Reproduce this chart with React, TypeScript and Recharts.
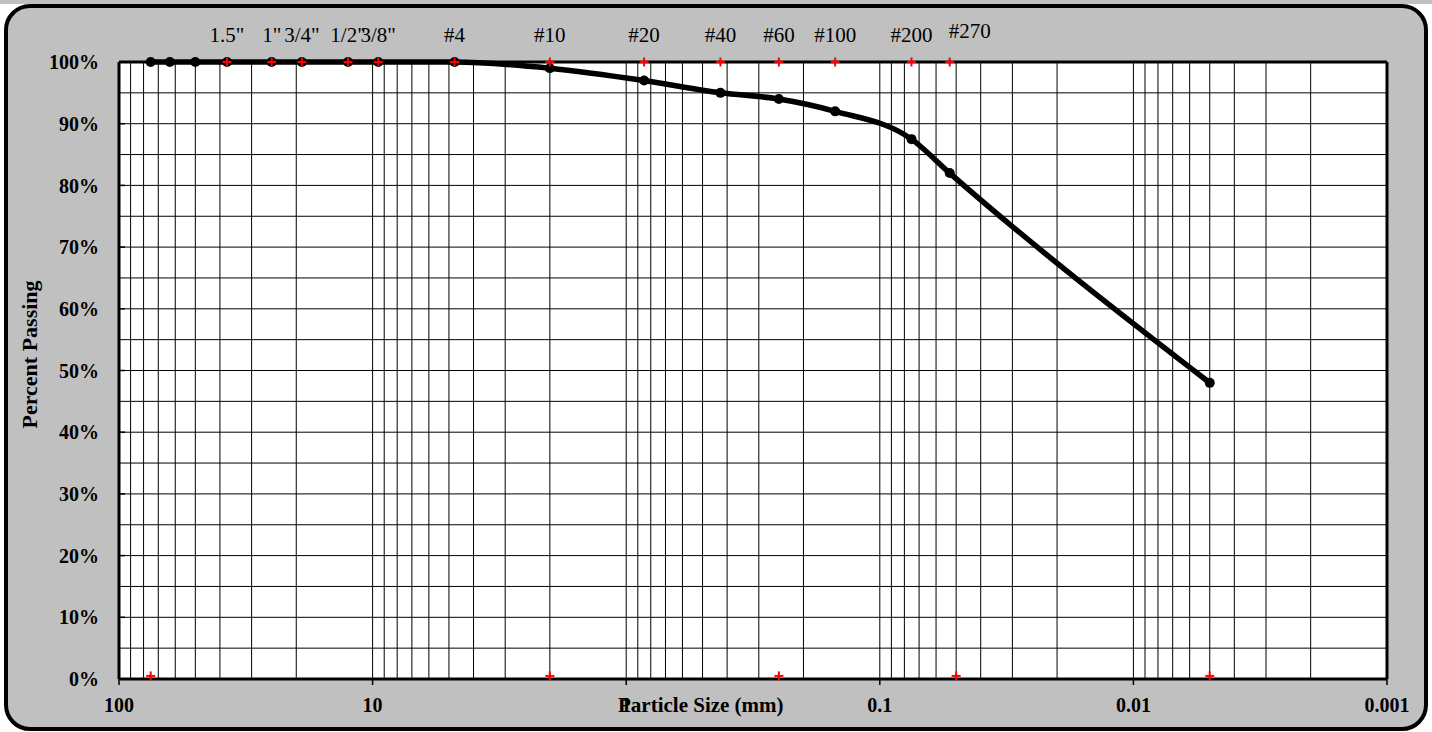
import React from 'react';
import { ComposedChart, Line, Scatter, XAxis, YAxis, CartesianGrid, Label } from 'recharts';

// Sample gradation (particle size in mm, percent passing)
const particleSizes = [75, 63, 50, 37.5, 25, 19, 12.5, 9.5, 4.75, 2.0, 0.85, 0.425, 0.25, 0.15, 0.075, 0.053, 0.005];
const percentPassing = [100, 100, 100, 100, 100, 100, 100, 100, 100, 99, 97, 95, 94, 92, 87.5, 82, 48];

// Sieve markers along the top (red crosses) and their labels
const sieveSizes = [37.5, 25, 19, 12.5, 9.5, 4.75, 2.0, 0.85, 0.425, 0.25, 0.15, 0.075, 0.053];
const sieveLabels = ['1.5"', '1"', '3/4"', '1/2"', '3/8"', '#4', '#10', '#20', '#40', '#60', '#100', '#200', '#270'];
const sievePct = 100;

// Classification boundary markers along the bottom (red crosses)
const boundarySizes = [75, 2, 0.25, 0.05, 0.005];
const boundaryPct = 0.5;

// Axis ticks
const xTicks = [100, 10, 1, 0.1, 0.01, 0.001];
const yTicks = [0, 10, 20, 30, 40, 50, 60, 70, 80, 90, 100];
const yGridValues = [0, 5, 10, 15, 20, 25, 30, 35, 40, 45, 50, 55, 60, 65, 70, 75, 80, 85, 90, 95, 100];
const gridDecades = [0.001, 0.01, 0.1, 1, 10];
const gridMultipliers = [1, 2, 3, 4, 5, 6, 7, 8, 9];

const curveData = particleSizes.map((s, i) => ({ size: s, pct: percentPassing[i] }));
const sieveData = sieveSizes.map((s) => ({ size: s, pct: sievePct }));
const boundaryData = boundarySizes.map((s) => ({ size: s, pct: boundaryPct }));
const xGridValues = gridDecades
  .flatMap((d) => gridMultipliers.map((m) => Number((d * m).toPrecision(6))))
  .concat([100]);

const FONT = "'Liberation Serif', 'Times New Roman', serif";

const Cross = (props: any) => {
  const { cx, cy } = props;
  if (cx == null || cy == null) return null;
  return (
    <g>
      <line x1={cx - 4.5} x2={cx + 4.5} y1={cy} y2={cy} stroke="#FF0000" strokeWidth={2} />
      <line x1={cx} x2={cx} y1={cy - 4.5} y2={cy + 4.5} stroke="#FF0000" strokeWidth={2} />
    </g>
  );
};

const SieveTick = (props: any) => {
  const { x, y, payload } = props;
  const idx = sieveSizes.indexOf(payload.value);
  const label = idx >= 0 ? sieveLabels[idx] : '';
  const shifted = label === '#270';
  return (
    <text
      x={x + (shifted ? 20 : 0)}
      y={y + (shifted ? -4 : 0)}
      textAnchor="middle"
      fontFamily={FONT}
      fontSize={21}
      fill="#000"
    >
      {label}
    </text>
  );
};

const XTitle = (props: any) => {
  const vb = props.viewBox;
  return (
    <text x={vb.x + vb.width / 2 - 135} y={vb.y + 33} textAnchor="start" fontFamily={FONT} fontSize={21} fontWeight="bold" fill="#000">
      Particle Size (mm)
    </text>
  );
};

const YTitle = (props: any) => {
  const vb = props.viewBox;
  const cx = 36.5;
  const cy = vb.y + vb.height / 2 - 16;
  return (
    <text x={cx} y={cy} transform={`rotate(-90, ${cx}, ${cy})`} textAnchor="middle" fontFamily={FONT} fontSize={22} fontWeight="bold" fill="#000">
      Percent Passing
    </text>
  );
};

export default function App() {
  return (
    <div style={{ position: 'absolute', left: 0, top: 0, width: 1432, height: 732, background: '#fff' }}>
      <div style={{ position: 'absolute', left: 0, top: 0, width: 1432, height: 4, background: '#C0C0C0' }} />
      <div
        style={{
          position: 'absolute',
          left: 4,
          top: 4,
          width: 1424,
          height: 727,
          boxSizing: 'border-box',
          border: '4px solid #000',
          borderRadius: 26,
          background: '#C0C0C0',
        }}
      />
      <div style={{ position: 'absolute', left: 0, top: 0 }}>
        <ComposedChart width={1432} height={732} margin={{ top: 22, right: 40, bottom: 13, left: 0 }}>
          <CartesianGrid
            xAxisId="bottom"
            yAxisId="left"
            fill="#fff"
            fillOpacity={1}
            stroke="#000"
            strokeWidth={1}
            verticalValues={xGridValues}
            horizontalValues={yGridValues}
          />
          <XAxis
            xAxisId="bottom"
            dataKey="size"
            type="number"
            scale="log"
            domain={[0.001, 100]}
            allowDataOverflow
            reversed
            ticks={xTicks}
            interval={0}
            height={40}
            tickFormatter={(v: number) => String(v)}
            tick={{ fill: '#000', fontSize: 20, fontWeight: 'bold', fontFamily: FONT }}
            tickSize={6}
            tickMargin={13}
            tickLine={{ stroke: '#000', strokeWidth: 1.5 }}
            axisLine={{ stroke: '#000', strokeWidth: 3 }}
          >
            <Label content={<XTitle />} />
          </XAxis>
          <XAxis
            xAxisId="top"
            orientation="top"
            dataKey="size"
            type="number"
            scale="log"
            domain={[0.001, 100]}
            allowDataOverflow
            reversed
            ticks={sieveSizes}
            interval={0}
            height={40}
            tick={<SieveTick />}
            tickSize={0}
            tickMargin={20}
            tickLine={false}
            axisLine={{ stroke: '#000', strokeWidth: 3 }}
          />
          <YAxis
            yAxisId="left"
            type="number"
            domain={[0, 100]}
            ticks={yTicks}
            interval={0}
            width={119}
            tickFormatter={(v: number) => `${v}%`}
            tick={{ fill: '#000', fontSize: 20, fontWeight: 'bold', fontFamily: FONT }}
            tickSize={-6}
            tickMargin={26}
            tickLine={{ stroke: '#000', strokeWidth: 1.5 }}
            axisLine={{ stroke: '#000', strokeWidth: 3 }}
          >
            <Label content={<YTitle />} />
          </YAxis>
          <YAxis
            yAxisId="right"
            orientation="right"
            type="number"
            domain={[0, 100]}
            width={5}
            tick={false}
            tickLine={false}
            axisLine={{ stroke: '#000', strokeWidth: 3 }}
          />
          <Line
            xAxisId="bottom"
            yAxisId="left"
            data={curveData}
            dataKey="pct"
            type="monotone"
            stroke="#000"
            strokeWidth={5.5}
            dot={{ r: 5, fill: '#000', stroke: '#000', strokeWidth: 0 }}
            activeDot={false}
            isAnimationActive={false}
          />
          <Scatter
            xAxisId="bottom"
            yAxisId="left"
            data={sieveData}
            dataKey="pct"
            shape={<Cross />}
            isAnimationActive={false}
          />
          <Scatter
            xAxisId="bottom"
            yAxisId="left"
            data={boundaryData}
            dataKey="pct"
            shape={<Cross />}
            isAnimationActive={false}
          />
        </ComposedChart>
      </div>
    </div>
  );
}
